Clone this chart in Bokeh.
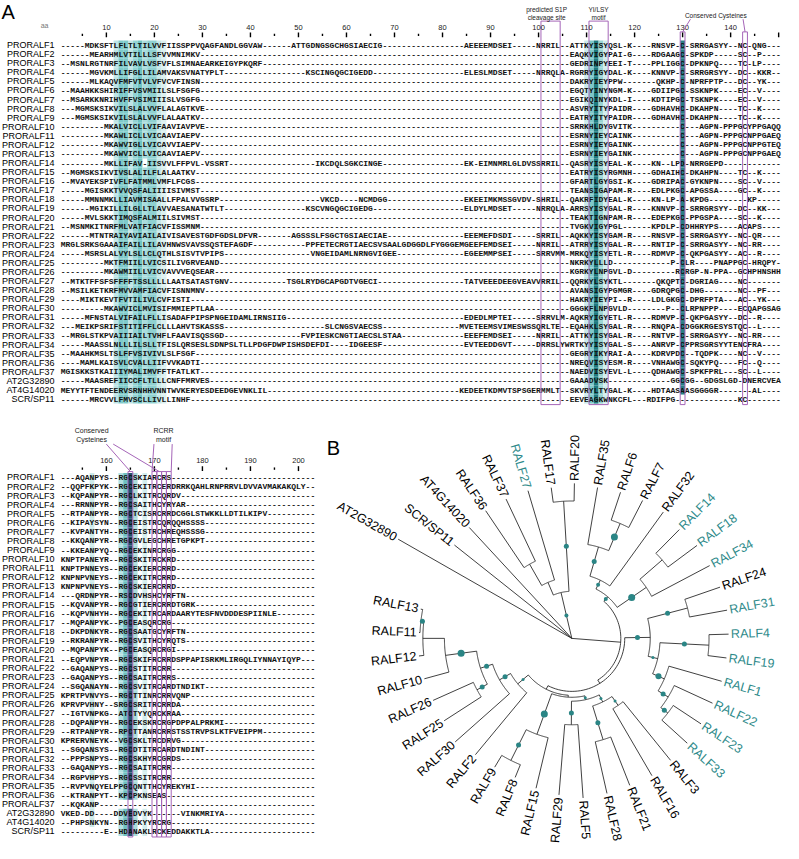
import numpy as np
from bokeh.plotting import figure
from bokeh.models import Range1d
from bokeh.embed import file_html
from bokeh.resources import INLINE
from bokeh.core.properties import value

# ---------------- data ----------------
ROW_NAMES = ["PRORALF1", "PRORALF2", "PRORALF3", "PRORALF4", "PRORALF5", "PRORALF6", "PRORALF7",
             "PRORALF8", "PRORALF9", "PRORALF10", "PRORALF11", "PRORALF12", "PRORALF13", "PRORALF14",
             "PRORALF15", "PRORALF16", "PRORALF17", "PRORALF18", "PRORALF19", "PRORALF20", "PRORALF21",
             "PRORALF22", "PRORALF23", "PRORALF24", "PRORALF25", "PRORALF26", "PRORALF27", "PRORALF28",
             "PRORALF29", "PRORALF30", "PRORALF31", "PRORALF32", "PRORALF33", "PRORALF34", "PRORALF35",
             "PRORALF36", "PRORALF37", "AT2G32890", "AT4G14020", "SCR/SP11"]

# alignment columns 1-150, written as segments  A(1-99) | B(100-106) | C(107-129) | D(130-150); "~" = gap run
TOP_SEQS = [
    "-----MDKSFTLFLTLTILVVFIISSPPVQAGFANDLGGVAW------ATTGDNGSGCHGSIAECIG~AEEEEMDSEI-----|NRRIL--|ATTKYISYQSL-K----RNSVP-|C-SRRGASYY--NC-QNG---",
    "------MEARHMLVTILLLSFVVMNIMKV~||EAQKVIGYPAI-G----RDGAAG|C-SPKDP-----SC--P----",
    "--MSNLRGTNRFILVAVLVSFVFLSIMNAEARKEIGYPKQRF~||GEDRINPYEEI-T----PPLIGG|C-DPKNPQ----TC-LP----",
    "------MGVKMLLIFGLLILAMVAKSVNATYPLT-----------------KSCINGQGCIGEDD~ELESLMDSET-----|NRRQLA-|RGRRYIGYDAL-K----KNNVP-|C-SRRGRSYY--DC--KKR--",
    "------MLKAQVFMFVTVLVFVCVFINSN~||DAKRYIEYPPW-------QKHP-|C-NPRFPTP---DC--YK---",
    "--MAAHKKSHIRIFFVSVMIILSLFSGFG~||EGQTYINYNGM-K----GDIIPG|C-SSKNPK----EC--V----",
    "--MSARKKNRIHVFFVSIMIIISLVSGFG~||EGIKQINYKDL-I----KDTIPG|C-TSKNPK----EC--V----",
    "---MGMSKSIKVILSLALVVFLALAGTKVE~||ASVRYITYPAIDR----GDHAVH|C-DKAHPN----TC--K----",
    "---MGMSKSIKVILSLALVVFLALAATKV~||EATRYITYPAIDR----GDHAVH|C-DKAHPN----TC--K----",
    "---------MKALVICLLVIFAAVIAVPVE~||SRRKHLDYGVITK----------|C---AGPN-PPPGCYPPGAQQ",
    "---------MKAWLICLLVICAAVIAEPV~||ESRNYIEYCAINK----------|C---AGPN-PPPGCNPPGAEQ",
    "---------MKAWVIGLLVICAVVIAEPV~||ESRNYIEYGAINK----------|C---AGPN-PPPGCNPPGTEQ",
    "---------MKAWVICLLVICAAVIAEPV~||ESRNYIEYGAINK----------|C---AGPN-PPPGCNPPGAEQ",
    "---------MKLLIFAV-IISVVLFFPVL-VSSRT------------------IKCDQLSGKCINGE~EK-EIMNMRLGLDVS|SRRIL--|QASRYISYEAL-K----KN--LP|D-NRRGEPD------------",
    "--MGMSKSIKVIVSLALILFLALAATKV~||EATRYISYRGMNH----GDHAIH|C-DKAHPN----TC--K----",
    "--MVAYEKSPIVFLFATMMLVMFLFCGS~||GFARTLGYGSI-K----GDRIPA|C-GYKNPN----SC--V----",
    "-----MGISKKTVVQSFALIIIISIVMST~||TEANSIGAPAM-R----EDLPKG|C-APGSSA----GC--K----",
    "-----MMNNMKLLIAVMISAALLFPALVVGSRP---------------------VKCD----NCMDGG~EKEEIMKMSSGVDV-|SHRIL--|QAKRFIDYEAL-K----KN-LP-|A-KPDG--------KP-----",
    "------MGIKILLILGLLTLAVVAESANATWTLT-----------------KSCVNGQGCIGEDG~ELDYLMDSET-----|NRRQLA-|ARRSYISYGAL-R----KNNVP-|C-SRRGRSYY--DC--KK---",
    "-----MVLSKKTIMQSFALMIILSIVMST~||TEAKTIGNPAM-R----EDEPKG|C-PPGSPA----SC--K----",
    "--MSNMKITNRFMLVATFIACVFISSMNM~||TVGKVIGYPGL------KPDLP-|CDHHRYPS----ACAPS----",
    "------MTNTRAIYAVIAILAIVISAVESTGDFGDSLDFVR-------AGSSSLFSGCTGSIAECIAE~EEEMEFDSDI-----|SRRIL--|AQKKYISYGAM-R----RNSVP-|C-SRRGASYY--NC-QR----",
    "MRGLSRKSGAAAIFAILLILAVHNWSVAVSSQSTEFAGDF~PPFETECRGTIAECSVSAALGDGGDLFYGGGEMGEEFEMDSEI-----|NRRIL--|ATRRYISYGAL-R----RNTIP-|C-SRRGASYY--NC-RR----",
    "-----MSRSLALVYLSLLCLQTHLSISVTVPIPS------------------VNGEIDAMLNRNGVIGEE~EGEEMMPSEI-----|SRRVMM-|MRKQYISYETL-R----RDMVP-|C-QKPGASYY--AC--R----",
    "---------MKTFMIILLVICSILIVGRVEAND~||NKRKYLLLD------------P-|CLR----PNAPPGC-HRQPY-",
    "---------MKAWMIILLVICVAVVVEQSEAR~||KGRKYLNPGVL-D---------R|CRGP-N-PPA--GCHPHNSHH",
    "--MTKTFFSFSFFFFTSSLLLLLAATSATASTGNV------------TSGLRYDGCAPGDTVGECI~TATVEEEDEEGVEAV|VRRIL--|QQRKYLSYKTL-------QKQPT|C-DGRIAG----NC-------",
    "--MSILKETKRFMVVAMFIACVFISNNMNV~||AVANSIGYPGMGR----GDRQPG|C-DHG-------NC--PF---",
    "----MIKTKEVTFVTILIVLCVFISTI~||HAKRYIEYPI--R----LDLGKG|C-DPRFPTA---AC--YK---",
    "---------MKAWVICLMVISIFMMIEPTLAA~||GGGKFLNPGVLD--------P--|CLRPNPPP----ECQAPGSAG",
    "-----MFNSTALVIFAILFLLISADAFPIPSPNGEIDAMLIRNSIIG~EDEDLMPTEI-----|SRRVLM-|AQKRYIGYETL-R----RDMVP-|C-QKPGASYY--DC--R----",
    "---MEIKPSRIFSTITIFFLCLLLAHVTSKASSS---------------------SLCNGSVAECSS~MVETEEMSVIMESWSS|QRLTE--|EQAHKLSYGAL-R----RNQPA-|CDGGKRGESYSTQC--L----",
    "--MRGLSTKPVAIIIAILTVHFLFAAVISQSSGD----------------FVPIESKCNGTIAECSLSTAA~EEEFEMDSEI-----|NRRIL--|ATTKYISYGAL-R----RNTVP-|C-SRRGASYY--NC-RR----",
    "-----MAASSLNLLLILSLLTFISLQRSESLSDNPSLTLLPDGFDWPISHSDEFDI----IDGEESF~EVTEEDDGVT-----|DRRSLYW|RTKYYISYGAL-S----ANRVP-|CPPRSGRSYYTENCFRA----",
    "--MAAHKMSLTSLFFVSIVIVLSLFSGF~||GEGRYIKYRAI-A----KDRVPD|C--TQDPK----NC--V----",
    "----MAMLKAISVLCVALLIIFVVKADTI~||NREQVISYESM-R----VNHAWG|C-SQKYPQ----FC--Q----",
    "MGISKKSTKAIIIYMALIMVFFTFATLKT~||NAEDVISYEVL-L----QDHAWG|C-SPKFPRL---SC--L----",
    "-----MAASREFIICCFLTLLLCNFFMRVES~||GAAADVSK-------------GG|CGG--GDGSLGD-DNERCVEA",
    "MEYYTFTENDEERVSRNHHVNNTWVKERYESDEEDGEVNKLIL~KEDEETKDMVTSPSGE|RMMLT--|SKVRYLTYGAL-K----HDTAAS|AASGGGGR-------AL----",
    "------MRCVVLFMVSCLLIVLLINHF~||EEVEAGKWNKCFL---RDIFPG-|------------KC-------",
]

# alignment columns 151-203
BOT_SEQS = [
    "---AQANPYS--RGCSKIARCRS",
    "--QQPFKPYK--RGCEKITRCERDRRKQAHLRNPRRVLDVVAVMAKAKQLY--",
    "--KQPANPYR--RGCLKITRCQRDV",
    "---RRNNPYR--RGCSAITHCYRYAR",
    "--RTPANPYR--RGCTCISRCRRDCGGLSTWKKLLDTILKIPV",
    "--KIPAYSYN--RGCEISTRCQRQQHSSSS",
    "--KVPANTYH--RGCEISTRCHREQHSSSG",
    "--KKQANPYR--RGCGVLEGCHRETGPKPT",
    "--KKEANPYQ--RGCEKINRCRGG",
    "KNPTPANEYR--RGCSKITRCKRD",
    "KNPTPNNEYS--RGCEKIERCRRD",
    "KNPNPVNEYS--RGCEKITRCRRD",
    "KNPNPVNEYS--RGCSKIERCRRD",
    "---QRDNPYR--RSCDVHSHCYRFTN",
    "--KQVANPYR--RGCGTIERCRRDTGRK",
    "--KQPVNHYH--RGCEKITRCARDAARYTESFNVDDDESPIINLE",
    "--MQPANPYK--PGCEASQRCRG",
    "--DKPDNKYR--RGCSAATGCYRFTN",
    "--RKRANPYR--RGCSVITHCYRQTS",
    "--MQPANPYK--PGCEASQRCRGI",
    "--EQPVNPYR--RGCSKIFRCRRDSPPAPISRKMLIRGQLIYNNAYIQYP",
    "--GAQANPYS--RGCSTITRCRR",
    "--GAQANPYS--RGCSAITRCRRS",
    "--SGQANAYN--RGCSVITRCARDTNDIKT",
    "KPRTPVNVYS--RGCTTINRCRRVQNP",
    "KPRVPVHNY--SRGCSRITRCRRDA",
    "--IGTVNPKG--ATCTYYQRCKRAA",
    "--DQPANPYH--RGCEKSKRCRGPDPPALPRKMI",
    "--RTPANPYR--RPCTTANRCRRSTSSTRVPSLKTFVEIPPM",
    "KPRERVNEYK--VGCSKLTRCDRVG",
    "--SGQANSYS--RGCDTITRCARDTNDINT",
    "--PPPSNPYS--RGCSKHYRCGRDS",
    "--GAQANPYS--RGCSAITRCRR",
    "--RGPVHPYS--RGCSSITRCRR",
    "--RVPVNQYELPPGCQNTTHCYREKYHI",
    "--KTRANPYT--KPCPKNSEAS",
    "--KQKANP",
    "VKED-DD----DDVEDVYK------VINKMRIYA",
    "--PHPSNKYN--RGHPKYYRCRG",
    "---------E--HDANAKLRCKEDDAKKTLA",
]

TOP_TICKS = list(range(5, 151, 5))
TOP_LABELLED = list(range(10, 141, 10))
BOT_TICKS = list(range(155, 204, 5))
BOT_LABELLED = list(range(160, 201, 10))

# conservation shading: (column, colour)
TOP_SHADE_COLS = [12, 13, 14, 15, 16, 17, 18, 19, 20, 21, 22, 110, 111, 112, 113, 114, 130]
TOP_SHADE_CLRS = ["#bfe4e4", "#7ecaca", "#7ecaca", "#bfe4e4", "#93d3d3", "#6ec3c3", "#a9dcdc",
                  "#8fd1d1", "#8fd1d1", "#c6e8e8", "#dbf0f0",
                  "#cbeaea", "#7fc9c9", "#1f7b80", "#9ad5d5", "#d0ecec", "#2a7d85"]
BOT_SHADE_COLS = [157, 163, 164, 165, 166, 168]
BOT_SHADE_CLRS = ["#cdeaea", "#b4e0e0", "#6fc0c0", "#24506e", "#a9dcdc", "#d3eeee"]

# boxed motif columns (first, last)
TOP_BOXES = [(101, 104), (111, 114), (130, 130), (143, 143)]
BOT_BOXES = [(165, 165), (170, 170), (171, 171), (172, 172), (173, 173)]

# tree (panel B)
TREE_LEAVES = ["AT2G32890", "SCR/SP11", "AT4G14020", "RALF36", "RALF37", "RALF27", "RALF17", "RALF20",
               "RALF35", "RALF6", "RALF7", "RALF32", "RALF14", "RALF18", "RALF34", "RALF24", "RALF31",
               "RALF4", "RALF19", "RALF1", "RALF22", "RALF23", "RALF33", "RALF3", "RALF16", "RALF21",
               "RALF28", "RALF5", "RALF29", "RALF15", "RALF8", "RALF9", "RALF2", "RALF30", "RALF25",
               "RALF26", "RALF10", "RALF12", "RALF11", "RALF13"]
TREE_TIP_R = [204, 153, 154, 157, 157, 157, 155, 158, 156, 157, 158, 159, 156, 159, 159, 160, 161,
              160, 159, 159, 158, 158, 159, 160, 162, 161, 162, 163, 160, 157, 153, 153, 154, 159,
              155, 155, 156, 157, 156, 157]
TEAL_LEAVES = ["RALF27", "RALF14", "RALF18", "RALF34", "RALF31", "RALF4", "RALF19", "RALF1",
               "RALF22", "RALF23", "RALF33"]
# (node, children, node radius, support-dot size)
TREE_NODES = [
    ("T1", ["RALF36", "RALF37"], 87, 0),
    ("T2", ["T1", "RALF27"], 62, 0),
    ("T3", ["RALF17", "RALF20"], 140, 5),
    ("T4", ["T2", "T3"], 48, 4),
    ("T5", ["RALF6", "RALF7"], 127, 7),
    ("T6", ["RALF35", "T5"], 97, 5),
    ("T7", ["T6", "RALF32"], 66, 4),
    ("T8", ["RALF14", "RALF18"], 122, 0),
    ("T9", ["T8", "RALF34"], 92, 7),
    ("T10", ["T7", "T9"], 56, 4),
    ("R1", ["RALF24", "RALF31"], 122, 5),
    ("R2", ["RALF4", "RALF19"], 140, 5),
    ("R3", ["RALF23", "RALF33"], 124, 5),
    ("R4", ["RALF22", "R3"], 115, 5),
    ("R5", ["RALF1", "R4"], 103, 6),
    ("R6", ["R2", "R5"], 90, 3),
    ("R7", ["R1", "R6"], 80, 5),
    ("B1", ["RALF3", "RALF16"], 83, 3),
    ("B2", ["RALF21", "RALF28"], 108, 5),
    ("B3", ["B1", "B2"], 72, 3),
    ("B4", ["RALF5", "RALF29"], 88, 5),
    ("B5", ["B3", "B4"], 64, 3),
    ("B6", ["RALF8", "RALF9"], 139, 5),
    ("B7", ["RALF15", "B6"], 104, 7),
    ("B8", ["B5", "B7"], 60, 0),
    ("L1", ["RALF11", "RALF13"], 155, 5),
    ("L2", ["RALF12", "L1"], 152, 0),
    ("L3", ["RALF10", "L2"], 130, 7),
    ("L4", ["RALF25", "RALF26"], 110, 5),
    ("L5", ["L4", "L3"], 98, 5),
    ("L6", ["RALF30", "L5"], 85, 5),
    ("L7", ["RALF2", "L6"], 72, 3),
    ("X4", ["B8", "L7"], 58, 0),
    ("X3", ["R7", "X4"], 54, 0),
    ("X2", ["T10", "X3"], 50, 0),
    ("ROOT", ["AT2G32890", "SCR/SP11", "AT4G14020", "T4", "X2"], 0, 0),
]

# ---------------- layout ----------------
X0, CW = 61.5, 4.9          # left edge of first column, column width
Y0, Y0B, RH = 45.4, 486.0, 9.25
TOP_FIRST, BOT_FIRST = 1, 151
SEQ_FONT = value("Liberation Mono")
SANS = value("Liberation Sans")
TEAL = "#2e8a8a"
PURPLE = "#a565b8"

p = figure(width=783, height=843, x_range=Range1d(0, 799), y_range=Range1d(859, 0),
           output_backend="svg", toolbar_location=None, min_border=0)
p.axis.visible = False
p.grid.visible = False
p.outline_line_color = None
p.background_fill_color = "white"


def build_row(s):
    widths = [99, 7, 23, 21]
    out = ""
    for part, w in zip(s.split("|"), widths):
        if "~" in part:
            part = part.replace("~", "-" * max(w - (len(part) - 1), 0))
        out += (part + "-" * w)[:w]
    return out


top_rows = [build_row(s) for s in TOP_SEQS]
bot_rows = [(s + "-" * 53)[:53] for s in BOT_SEQS]


def col_left(c, first):
    return X0 + (c - first) * CW


def draw_panel(rows, y0, first, shade_cols, shade_clrs, boxes, box_top):
    n = len(rows)
    ys = [y0 + i * RH for i in range(n)]
    L, R, T, B, C = [], [], [], [], []
    for i, s in enumerate(rows):
        for c, clr in zip(shade_cols, shade_clrs):
            k = c - first
            if 0 <= k < len(s) and s[k] != "-":
                L.append(col_left(c, first)); R.append(col_left(c, first) + CW)
                T.append(ys[i] - RH / 2); B.append(ys[i] + RH / 2); C.append(clr)
    p.quad(left=L, right=R, top=T, bottom=B, fill_color=C, line_color=None)
    p.text(x=[X0] * n, y=ys, text=rows, text_font=SEQ_FONT, text_font_size="8px",
           text_font_style="bold", text_baseline="middle", text_align="left", text_color="#111111")
    p.text(x=[55] * n, y=ys, text=ROW_NAMES, text_font=SANS, text_font_size="9px",
           text_baseline="middle", text_align="right", text_color="black")
    bl = [col_left(a, first) for a, b in boxes]
    br = [col_left(b, first) + CW for a, b in boxes]
    bb = [ys[-1] + RH / 2 + 1] * len(boxes)
    p.quad(left=bl, right=br, top=box_top, bottom=bb, fill_color=None, line_color=PURPLE,
           line_width=1)
    return ys


ys_top = draw_panel(top_rows, Y0, TOP_FIRST, TOP_SHADE_COLS, TOP_SHADE_CLRS, TOP_BOXES,
                    [21, 21, 32, 32])
ys_bot = draw_panel(bot_rows, Y0B, BOT_FIRST, BOT_SHADE_COLS, BOT_SHADE_CLRS, BOT_BOXES,
                    [480] * 5)


def ruler(ticks, labelled, first, y_lab, y_tick):
    xs = [col_left(c, first) + CW / 2 for c in ticks]
    big = [c % 10 == 0 for c in ticks]
    p.segment(x0=xs, x1=xs, y0=[y_tick - (2.5 if b else 1.2) for b in big],
              y1=[y_tick + (2.5 if b else 1.2) for b in big], line_color="black", line_width=1.4)
    lx = [col_left(c, first) + CW / 2 for c in labelled]
    p.text(x=lx, y=[y_lab] * len(lx), text=[str(c) for c in labelled], text_font=SANS,
           text_font_size="7.5px", text_baseline="middle", text_align="center",
           text_color="#222222")


ruler(TOP_TICKS, TOP_LABELLED, TOP_FIRST, 28, 35)
ruler(BOT_TICKS, BOT_LABELLED, BOT_FIRST, 469, 477)

# panel letters and annotations
p.text(x=[1, 333], y=[1, 445], text=["A", "B"], text_font=SANS, text_font_size="20px",
       text_baseline="top", text_align="left", text_color="black")
p.text(x=[45], y=[25], text=["aa"], text_font=SANS, text_font_size="7px",
       text_baseline="middle", text_align="center", text_color="#777777")

s1p_c = (col_left(101, 1) + col_left(104, 1) + CW) / 2
yi_c = (col_left(111, 1) + col_left(114, 1) + CW) / 2
cy1 = col_left(130, 1) + CW / 2
cy2 = col_left(143, 1) + CW / 2
p.text(x=[s1p_c - 4, s1p_c - 4, yi_c, yi_c, (cy1 + cy2) / 2 + 2],
       y=[9, 17, 9, 17, 15],
       text=["predicted S1P", "cleavage site", "YI/LSY", "motif", "Conserved Cysteines"],
       text_font=SANS, text_font_size="6.5px", text_baseline="middle", text_align="center",
       text_color="#222222")
p.segment(x0=[cy1 + 8, cy2 - 2], y0=[19, 19], x1=[cy1, cy2], y1=[32, 32],
          line_color=PURPLE, line_width=1)

bc = col_left(165, 151) + CW / 2
bc2 = col_left(171, 151) + CW / 2
rl = col_left(170, 151)
rr = col_left(173, 151) + CW
p.text(x=[93, 93, (rl + rr) / 2 + 2, (rl + rr) / 2 + 2], y=[438, 447, 438, 447],
       text=["Conserved", "Cysteines", "RCRR", "motif"], text_font=SANS, text_font_size="7px",
       text_baseline="middle", text_align="center", text_color="#222222")
p.segment(x0=[108, 115, rl + 2, rr + 1], y0=[452, 452, 452, 452], x1=[bc, bc2, rl, rr],
          y1=[480, 480, 480, 480], line_color=PURPLE, line_width=1)

# ---------------- tree ----------------
CX, CY = 583.0, 650.0
A0, DA = 150.3, 8.75
ang, rad, par = {}, {}, {}
for i, nme in enumerate(TREE_LEAVES):
    ang[nme] = np.deg2rad(A0 - i * DA)
    rad[nme] = TREE_TIP_R[i]
ndef = {n: (ch, r, d) for n, ch, r, d in TREE_NODES}


def place(n):
    if n in ang:
        return
    ch, r, d = ndef[n]
    for c in ch:
        place(c)
        par[c] = n
    ang[n] = (ang[ch[0]] + ang[ch[-1]]) / 2
    rad[n] = r


place("ROOT")


def pt(r, a):
    return CX + r * np.cos(a), CY - r * np.sin(a)


lx, ly = [], []
for n, ch, r, d in TREE_NODES:
    for c in ch:
        x0_, y0_ = pt(r, ang[c])
        x1_, y1_ = pt(rad[c], ang[c])
        lx.append([x0_, x1_]); ly.append([y0_, y1_])
    if r > 0:
        aa = np.linspace(ang[ch[0]], ang[ch[-1]], 40)
        ax, ay = pt(r, aa)
        lx.append(list(ax)); ly.append(list(ay))
p.multi_line(xs=lx, ys=ly, line_color="#2b2b2b", line_width=0.9)

dx, dy, ds = [], [], []
for n, ch, r, d in TREE_NODES:
    if d > 0:
        rr_ = (rad[par[n]] + r) / 2 if n in par else r / 2
        x_, y_ = pt(rr_, ang[n])
        dx.append(x_); dy.append(y_); ds.append(d)
p.scatter(x=dx, y=dy, size=ds, fill_color="#2a8585", line_color=None)

for nme in TREE_LEAVES:
    a = ang[nme]
    deg = (np.rad2deg(a) + 180) % 360 - 180
    x_, y_ = pt(rad[nme] + 2.5, a)
    clr = TEAL if nme in TEAL_LEAVES else "black"
    if -90 < deg <= 90:
        p.text(x=[x_], y=[y_], text=[nme], angle=np.deg2rad(deg), text_align="left",
               text_baseline="middle", text_font=SANS, text_font_size="12.5px", text_color=clr)
    else:
        p.text(x=[x_], y=[y_], text=[nme], angle=np.deg2rad(deg - 180), text_align="right",
               text_baseline="middle", text_font=SANS, text_font_size="12.5px", text_color=clr)

open("out.html", "w").write(file_html(p, INLINE))
